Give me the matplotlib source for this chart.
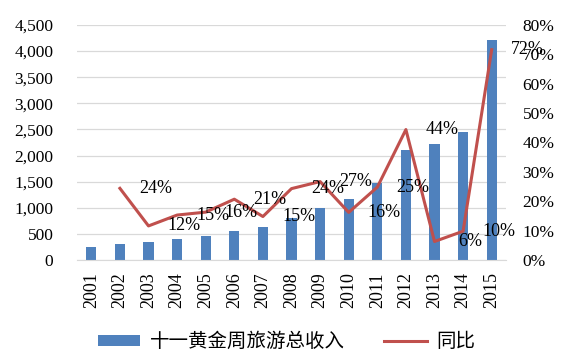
import numpy as np
import matplotlib
matplotlib.use('Agg')
import matplotlib.pyplot as plt
from matplotlib.ticker import FuncFormatter

plt.rcParams['font.family'] = ['Liberation Serif', 'Noto Sans CJK SC']

# data
years = ['2001', '2002', '2003', '2004', '2005', '2006', '2007', '2008',
         '2009', '2010', '2011', '2012', '2013', '2014', '2015']
income = [255, 312, 339, 402, 460, 561, 638, 798, 1001, 1162, 1469, 2106, 2227, 2445, 4213]
# yoy growth, from 2002 on (%)
growth_years = years[1:]
growth = [24.4, 11.6, 15.3, 16.3, 20.7, 14.8, 24.3, 26.7, 16.2, 24.8, 44.4, 6.3, 9.8, 71.6]

bar_color = '#4F81BD'
line_color = '#C0504D'

fig = plt.figure(figsize=(5.73, 3.64), dpi=100)
ax = fig.add_axes([77 / 573, 104 / 364, 429 / 573, 235 / 364])
ax2 = ax.twinx()

x = np.arange(len(years))
bars = ax.bar(x, income, width=0.35, color=bar_color, zorder=2)
ax.set_ylim(0, 4500)
ax.set_yticks(np.arange(0, 4501, 500))
ax.yaxis.set_major_formatter(FuncFormatter(lambda v, p: f'{int(v):,}'))
ax.set_xlim(-0.5, len(years) - 0.5)
ax.set_xticks(x)
ax.set_xticklabels(years, rotation=90)
ax.grid(axis='y', color='#d9d9d9', lw=0.9, zorder=0)
ax.set_axisbelow(True)
for s in ['top', 'left', 'right']:
    ax.spines[s].set_visible(False)
ax.spines['bottom'].set_color('#d9d9d9')
ax.tick_params(axis='y', length=0, pad=17, labelsize=12.5)
ax.tick_params(axis='x', length=0, pad=9, labelsize=13)

gx = np.array([years.index(y) for y in growth_years])
gv = np.array(growth) / 100
line, = ax2.plot(gx, gv, color=line_color, lw=2.2, zorder=3)
ax2.set_ylim(0, 0.8)
ax2.set_yticks(np.arange(0, 0.81, 0.1))
ax2.yaxis.set_major_formatter(FuncFormatter(lambda v, p: f'{v * 100:.0f}%'))
ax2.tick_params(axis='y', length=0, pad=12, labelsize=12.5)
for s in ax2.spines.values():
    s.set_visible(False)

# data labels, drawn one category to the right as in the original
for xi, v in zip(gx, growth):
    ax2.text(xi + 1.25, v / 100, f'{v:.0f}%', ha='center', va='center',
             fontsize=13, clip_on=False, zorder=4)

fig.legend([bars, line], ['十一黄金周旅游总收入', '同比'], loc='center',
           bbox_to_anchor=(0.5, 22 / 364), ncol=2, frameon=False,
           fontsize=14, handlelength=2.2, handleheight=0.45, handletextpad=0.5,
           columnspacing=2.0)

fig.savefig('out.png', dpi=100)
